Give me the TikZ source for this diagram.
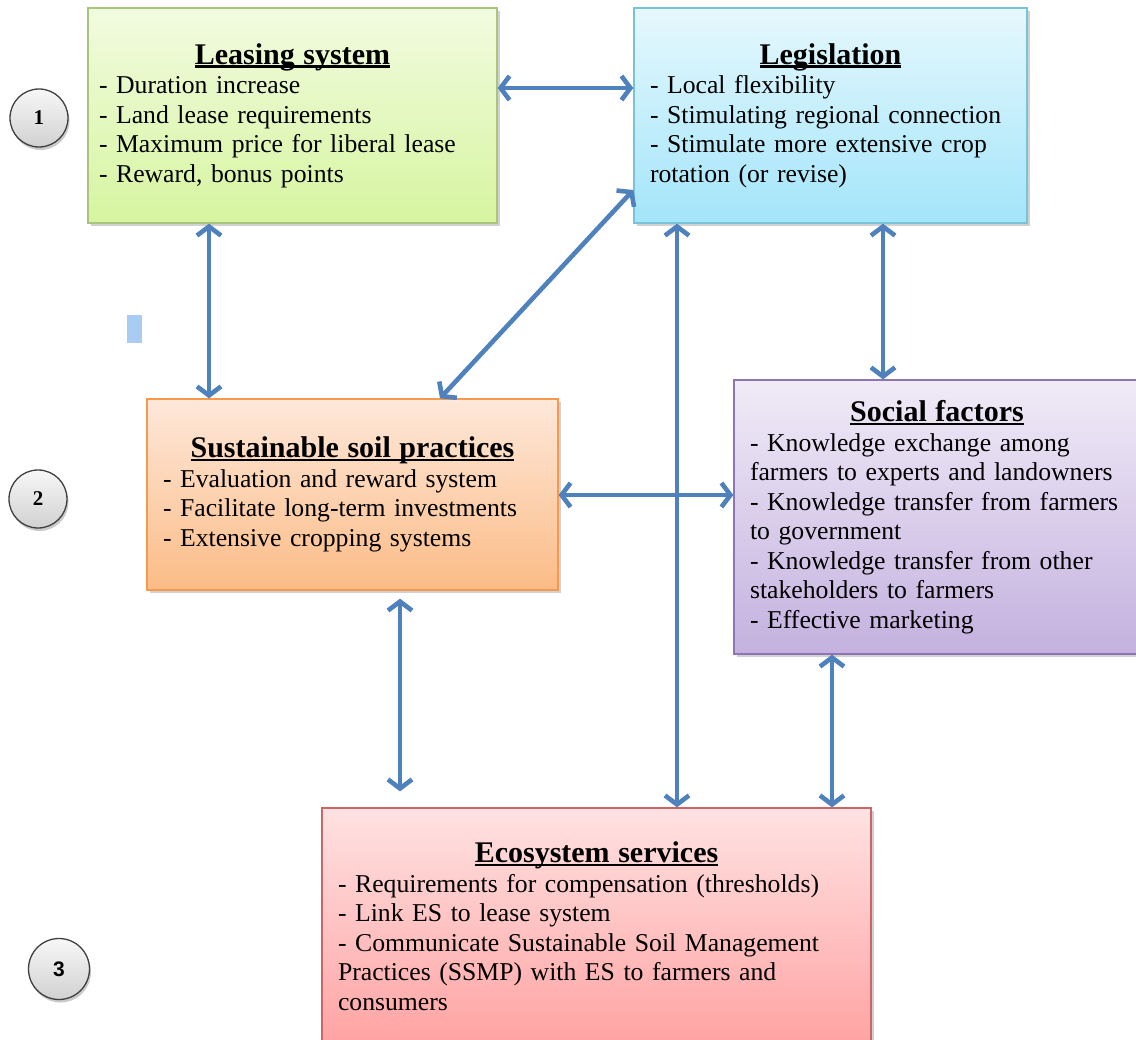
\documentclass[tikz,border=0pt]{standalone}
\usepackage{fontspec}
\setmainfont{Liberation Serif}
\newfontfamily\numsans{Liberation Sans}
\usetikzlibrary{arrows.meta,shadows}

\definecolor{linkblue}{HTML}{4F81BD}
\definecolor{leaseTop}{HTML}{F2FBE0}
\definecolor{leaseBot}{HTML}{D6F5A0}
\definecolor{leaseLine}{HTML}{A9C47F}
\definecolor{legisTop}{HTML}{E6F8FD}
\definecolor{legisBot}{HTML}{A3E5FA}
\definecolor{legisLine}{HTML}{78C3D8}
\definecolor{sustTop}{HTML}{FEE8DA}
\definecolor{sustBot}{HTML}{FBBC86}
\definecolor{sustLine}{HTML}{F59A4C}
\definecolor{socTop}{HTML}{F0EBF7}
\definecolor{socBot}{HTML}{C4B1DF}
\definecolor{socLine}{HTML}{8E76B4}
\definecolor{ecoTop}{HTML}{FFE2E2}
\definecolor{ecoBot}{HTML}{FFA3A3}
\definecolor{ecoLine}{HTML}{CC6666}
\definecolor{markblue}{HTML}{A9CDF2}

\newcommand\bodyfont{\fontsize{25.7}{29.5}\selectfont}
\newcommand\titlefont{\fontsize{30}{30}\selectfont\bfseries}
\newcommand\myul[1]{\setbox0\hbox{#1}\rlap{\rule[-3.5pt]{\wd0}{2.4pt}}\box0}
\newcommand\ttl[1]{\makebox[\hsize][c]{\titlefont\myul{#1}}}
\newcommand\bline[1]{\mbox{#1}}

\tikzset{
  boxbase/.style={rectangle, line width=1.3pt, inner ysep=0pt, inner xsep=16pt,
    align=left, font=\bodyfont,
    drop shadow={shadow xshift=2.5pt, shadow yshift=-3pt, opacity=0.3, fill=black!60}},
  link/.style={draw=linkblue, line width=4.6pt,
    {Straight Barb[length=9pt,width=24pt]}-{Straight Barb[length=9pt,width=24pt]}},
  numcircle/.style={circle, draw=black!75, line width=1.3pt, top color=black!3,
    bottom color=black!18, minimum size=58pt, inner sep=0pt,
    font=\fontsize{21}{21}\selectfont\bfseries,
    drop shadow={shadow xshift=1.5pt, shadow yshift=-3pt, opacity=0.35, fill=black!60}}
}

\begin{document}
\begin{tikzpicture}[x=1pt,y=-1pt]
\useasboundingbox (0,0) rectangle (1136,1040);

% boxes
\node[boxbase, top color=leaseTop, bottom color=leaseBot, draw=leaseLine,
  minimum width=409pt, minimum height=215pt, text width=387pt, inner xsep=11pt]
  (lease) at (292.5,115.5)
  {\ttl{Leasing system}\\
   \bline{- Duration increase}\\
   \bline{- Land lease requirements}\\
   \bline{- Maximum price for liberal lease}\\
   \bline{- Reward, bonus points}};

\node[boxbase, top color=legisTop, bottom color=legisBot, draw=legisLine,
  minimum width=393pt, minimum height=215pt, text width=361pt]
  (legis) at (830.5,115.5)
  {\ttl{Legislation}\\
   \bline{- Local flexibility}\\
   \bline{- Stimulating regional connection}\\
   \bline{- Stimulate more extensive crop}\\
   \bline{rotation (or revise)}};

\node[boxbase, top color=sustTop, bottom color=sustBot, draw=sustLine,
  minimum width=411pt, minimum height=191pt, text width=379pt]
  (sust) at (352.5,494.5)
  {\ttl{Sustainable soil practices}\\
   \bline{- Evaluation and reward system}\\
   \bline{- Facilitate long-term investments}\\
   \bline{- Extensive cropping systems}};

\node[boxbase, top color=socTop, bottom color=socBot, draw=socLine,
  minimum width=406pt, minimum height=274pt, text width=374pt]
  (social) at (937,517)
  {\ttl{Social factors}\\
   \bline{- Knowledge exchange among}\\
   \bline{farmers to experts and landowners}\\
   \bline{- Knowledge transfer from farmers}\\
   \bline{to government}\\
   \bline{- Knowledge transfer from other}\\
   \bline{stakeholders to farmers}\\
   \bline{- Effective marketing}};

\node[boxbase, top color=ecoTop, bottom color=ecoBot, draw=ecoLine,
  minimum width=549pt, minimum height=236pt, text width=517pt]
  (eco) at (596.5,926)
  {\ttl{Ecosystem services}\\
   \bline{- Requirements for compensation (thresholds)}\\
   \bline{- Link ES to lease system}\\
   \bline{- Communicate Sustainable Soil Management}\\
   \bline{Practices (SSMP) with ES to farmers and}\\
   \bline{consumers}};

% numbered circles
\node[numcircle] (n1) at (39,118) {1};
\node[numcircle] (n2) at (38,499) {2};
\node[numcircle, minimum size=61pt, font=\fontsize{21}{21}\selectfont\numsans\bfseries] (n3) at (59,969) {3};

% small mark
\node[rectangle, fill=markblue, minimum width=15pt, minimum height=28pt, inner sep=0pt]
  (mark) at (134.5,329) {};

% connectors
\draw[link] (lease.east |- 0,88) -- (legis.west |- 0,88);
\draw[link] (lease.south -| 209,0) -- (sust.north -| 209,0);
\draw[link] (legis.west |- 0,190) -- (sust.north -| 440,0);
\draw[link] (legis.south -| 677,0) -- (eco.north -| 677,0);
\draw[link] (legis.south -| 883,0) -- (social.north -| 883,0);
\draw[link] (sust.east |- 0,495) -- (social.west |- 0,495);
\draw[link] ([yshift=-8pt]sust.south -| 400,0) -- ([yshift=16pt]eco.north -| 400,0);
\draw[link] (social.south -| 832,0) -- (eco.north -| 832,0);
\end{tikzpicture}
\end{document}
